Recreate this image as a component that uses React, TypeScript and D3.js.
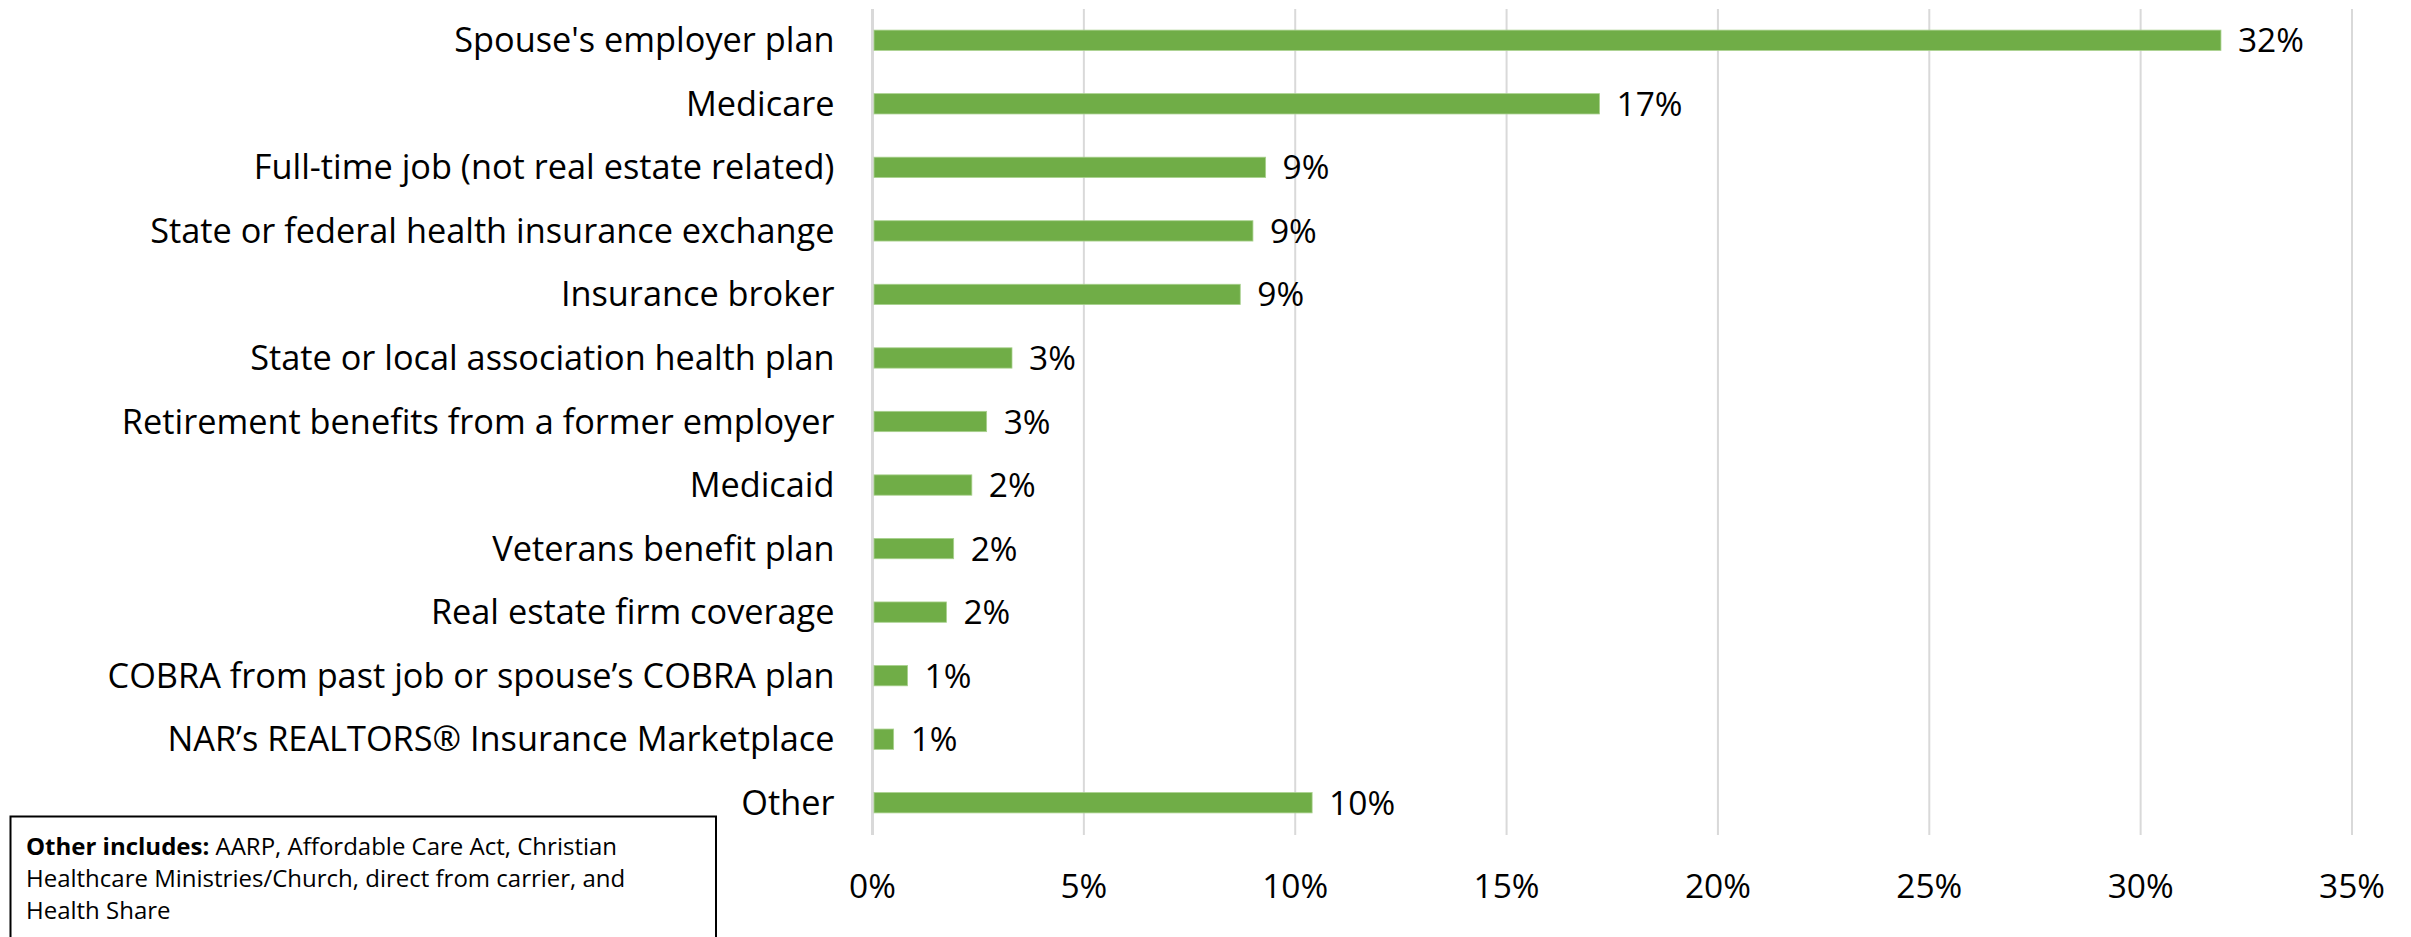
import * as d3 from "d3"

const categories = [
  "Spouse's employer plan",
  "Medicare",
  "Full-time job (not real estate related)",
  "State or federal health insurance exchange",
  "Insurance broker",
  "State or local association health plan",
  "Retirement benefits from a former employer",
  "Medicaid",
  "Veterans benefit plan",
  "Real estate firm coverage",
  "COBRA from past job or spouse\u2019s COBRA plan",
  "NAR\u2019s REALTORS\u00ae Insurance Marketplace",
  "Other",
]

const values = [31.9, 17.2, 9.3, 9.0, 8.7, 3.3, 2.7, 2.35, 1.92, 1.75, 0.83, 0.5, 10.4]

const valueLabels = ["32%", "17%", "9%", "9%", "9%", "3%", "3%", "2%", "2%", "2%", "1%", "1%", "10%"]

const ticks = [0, 5, 10, 15, 20, 25, 30, 35]

const noteLines = [
  "AARP, Affordable Care Act, Christian",
  "Healthcare Ministries/Church, direct from carrier, and",
  "Health Share",
]

const W = 2411
const H = 937
const FONT = "'Open Sans', 'DejaVu Sans', sans-serif"

export default function App() {
  const x = d3.scaleLinear().domain([0, 35]).range([872.5, 2352])
  const y = d3.scaleBand<string>()
    .domain(categories)
    .range([8.5, 834.5])
    .paddingInner(0.68)
    .paddingOuter(0.34)

  const gridTop = 9
  const gridBottom = 835

  return (
    <svg
      width={W}
      height={H}
      style={{ position: "absolute", left: 0, top: 0, display: "block", background: "#fff" }}
      fontFamily={FONT}
    >
      {/* gridlines */}
      {ticks.map((t) => (
        <line
          key={"g" + t}
          x1={x(t)}
          x2={x(t)}
          y1={gridTop}
          y2={gridBottom}
          stroke="#d9d9d9"
          strokeWidth={t === 0 ? 3 : 2}
        />
      ))}

      {/* bars */}
      {categories.map((c, i) => (
        <rect
          key={c}
          x={x(0) + 1.5}
          y={y(c)}
          width={x(values[i]) - x(0) - 1.5}
          height={y.bandwidth()}
          fill="#70ad47"
          stroke="#a9d18e"
          strokeWidth={0.8}
        />
      ))}

      {/* category labels */}
      {categories.map((c) => (
        <text
          key={"l" + c}
          x={x(0) - 38}
          y={(y(c) || 0) + y.bandwidth() / 2 + 12}
          textAnchor="end"
          fontSize={34.3}
          fill="#000"
        >
          {c}
        </text>
      ))}

      {/* value labels */}
      {categories.map((c, i) => (
        <text
          key={"v" + c}
          x={x(values[i]) + 17}
          y={(y(c) || 0) + y.bandwidth() / 2 + 12}
          fontSize={33.5}
          fill="#000"
        >
          {valueLabels[i]}
        </text>
      ))}

      {/* x axis tick labels */}
      {ticks.map((t) => (
        <text key={"t" + t} x={x(t)} y={898} textAnchor="middle" fontSize={33.5} fill="#000">
          {t + "%"}
        </text>
      ))}

      {/* note box */}
      <path d={`M10.5,${H + 5} V816.5 H716 V${H + 5}`} fill="#fff" stroke="#000" strokeWidth={2} />
      <text x={26} y={855} fontSize={24} fill="#000">
        <tspan fontWeight="bold">Other includes:</tspan> {noteLines[0]}
      </text>
      <text x={26} y={887} fontSize={24} fill="#000">
        {noteLines[1]}
      </text>
      <text x={26} y={919} fontSize={24} fill="#000">
        {noteLines[2]}
      </text>
    </svg>
  )
}
